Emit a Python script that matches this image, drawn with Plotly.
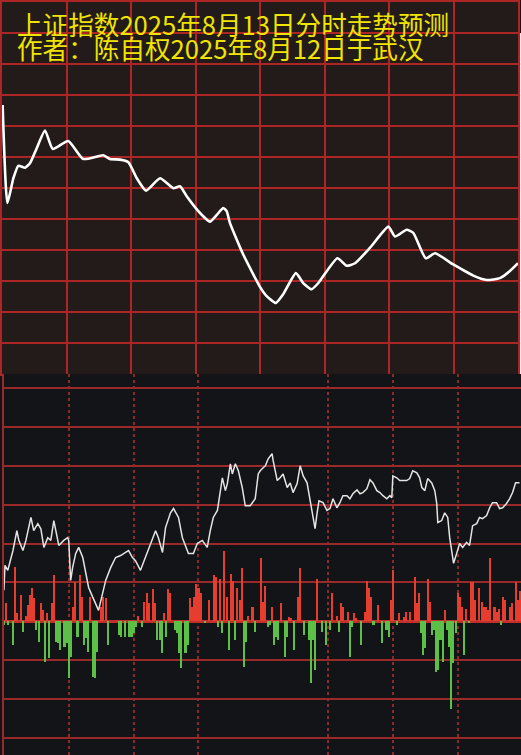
import plotly.graph_objects as go

# ---------------- data ----------------
title_line1 = "上证指数2025年8月13日分时走势预测"
title_line2 = "作者：陈自权2025年8月12日于武汉"

# Predicted curve (top panel): minute of session (0-240) and index level
top_minutes = [0.3, 2.5, 5.3, 7.6, 10.7, 13.0, 16.1, 20.0, 23.6, 30.8, 37.8, 47.1, 50.2, 54.9,
               58.7, 62.7, 67.0, 73.5, 79.7, 82.8, 85.9, 92.1, 96.7, 99.9, 102.9, 104.5, 106.0,
               112.2, 120.0, 123.1, 127.4, 130.8, 136.7, 140.1, 144.0, 147.1, 156.0, 160.3,
               164.2, 171.2, 179.7, 182.8, 188.2, 191.3, 197.1, 201.4, 209.9, 219.2, 225.4,
               231.6, 236.1, 240.0]
top_values = [3663.4, 3647.6, 3651.6, 3653.6, 3653.3, 3654.0, 3656.4, 3659.3, 3656.3, 3657.6,
              3654.7, 3655.3, 3654.7, 3654.6, 3654.2, 3651.6, 3649.6, 3651.6, 3650.0, 3650.3,
              3648.7, 3646.0, 3644.6, 3645.7, 3646.8, 3646.3, 3644.4, 3639.3, 3634.1, 3632.6,
              3631.5, 3632.9, 3636.3, 3634.7, 3633.7, 3634.7, 3638.7, 3637.5, 3637.9, 3640.4,
              3643.8, 3642.2, 3643.3, 3642.8, 3638.7, 3639.5, 3637.7, 3635.9, 3635.2, 3635.5,
              3636.6, 3637.9]

# Actual intraday price (bottom panel)
price_minutes = [0, 0.5, 1.8, 4.2, 6.0, 6.9, 8.8, 10.2, 12.5, 13.8, 15.7, 17.1, 18.5, 20.3, 21.7,
                 23.1, 25.4, 27.7, 29.5, 30.0, 30.9, 31.8, 33.2, 34.6, 36.5, 37.8, 39.2, 41.1,
                 43.4, 43.8, 47.1, 49.4, 51.7, 54.0, 56.3, 57.7, 59.5, 60.9, 63.2, 65.5, 67.8,
                 70.2, 71.5, 73.4, 74.8, 77.1, 78.5, 80.8, 82.6, 84.0, 85.4, 87.7, 89.5, 91.8,
                 94.1, 95.5, 96.9, 98.8, 100.1, 101.1, 102.5, 103.4, 104.8, 105.7, 107.1, 108.5,
                 110.3, 111.7, 114.0, 116.3, 117.7, 118.6,
                 120.0, 121.0, 122.3, 124.1, 124.6, 126.5, 127.8, 129.2, 131.1, 132.5, 133.8,
                 135.7, 137.1, 138.5, 140.3, 141.7, 143.1, 144.0, 144.9, 145.8, 147.7, 149.5,
                 150.9, 152.3, 154.1, 155.5, 156.9, 158.8, 160.1, 161.5, 163.4, 164.8, 166.1,
                 168.0, 169.4, 170.8, 172.6, 174.0, 175.4, 177.2, 178.6, 179.5, 180.0, 181.8,
                 183.2, 184.6, 186.4, 187.8, 189.2, 191.1, 192.4, 193.4, 194.8, 196.1, 198.0,
                 199.4, 200.3, 200.8, 202.6, 204.0, 205.4, 206.3, 207.2, 208.1, 209.5, 210.9,
                 212.3, 214.1, 215.5, 216.9, 218.8, 220.1, 221.5, 223.4, 224.8, 226.1, 228.0,
                 229.4, 230.8, 232.6, 234.0, 235.4, 236.8, 238.6]
price_values = [3638.0, 3644.4, 3643.1, 3648.2, 3653.3, 3650.8, 3648.2, 3650.8, 3656.7, 3653.3,
                3655.1, 3653.8, 3649.0, 3651.5, 3650.8, 3655.9, 3649.5, 3650.8, 3651.5, 3650.8,
                3640.5, 3643.8, 3647.4, 3649.0, 3646.4, 3642.3, 3638.7, 3636.2, 3633.6, 3632.8,
                3640.5, 3643.8, 3646.4, 3646.9, 3647.7, 3648.2, 3646.4, 3645.6, 3643.1, 3646.4,
                3650.0, 3653.3, 3651.5, 3647.7, 3654.1, 3657.9, 3659.0, 3656.7, 3651.5, 3649.5,
                3647.4, 3647.4, 3650.0, 3650.8, 3649.0, 3653.3, 3656.7, 3658.5, 3662.8, 3666.9,
                3663.6, 3665.4, 3670.5, 3667.9, 3670.5, 3668.7, 3664.4, 3659.7, 3659.7, 3661.5,
                3667.9, 3668.7,
                3669.5, 3670.0, 3671.8, 3673.1, 3671.3, 3666.2, 3666.9, 3667.9, 3664.4, 3665.6,
                3663.1, 3665.4, 3670.0, 3667.4, 3665.6, 3661.5, 3656.7, 3653.8, 3657.7, 3661.0,
                3660.5, 3658.5, 3659.0, 3661.5, 3659.2, 3660.5, 3662.3, 3662.3, 3661.5, 3662.8,
                3663.8, 3662.8, 3663.1, 3664.1, 3666.4, 3665.6, 3663.6, 3663.1, 3662.3, 3661.5,
                3662.3, 3661.8, 3667.4, 3666.9, 3666.2, 3666.2, 3666.2, 3666.7, 3668.7, 3668.2,
                3666.9, 3664.4, 3663.6, 3666.7, 3665.6, 3663.6, 3660.3, 3655.4, 3655.9, 3657.9,
                3656.7, 3651.5, 3648.2, 3644.9, 3647.4, 3650.0, 3649.0, 3650.3, 3649.5, 3654.6,
                3655.1, 3656.7, 3656.4, 3657.2, 3659.2, 3660.5, 3660.5, 3659.0, 3659.2, 3660.3,
                3661.5, 3663.1, 3665.6, 3665.6]

# Buying (red) / selling (green) strength bars
red_minutes = [1, 5, 6, 8, 10, 11, 12, 13, 14, 17, 18, 20, 22, 23, 32, 33, 35, 36, 40, 45, 46, 47,
               62, 65, 66, 67, 69, 70, 74, 76, 77, 86, 87, 88, 89, 90, 91, 95, 97, 98, 100, 102,
               103, 105, 106, 108, 109, 110, 113, 115, 119, 120, 121, 124, 128, 132, 133, 136,
               137, 145, 152, 154, 156, 157, 159, 162, 163, 167, 168, 169, 170, 173, 179, 180,
               183, 185, 186, 188, 190, 191, 192, 196, 197, 204, 210, 211, 212, 214, 216, 217,
               218, 220, 221, 222, 223, 224, 225, 227, 228, 229, 231, 232, 234, 235, 237, 238,
               239]
red_values = [46, 141, 21, 67, 15, 41, 67, 85, 59, 46, 28, 21, 46, 118, 36, 100, 118, 62, 62, 36,
              62, 59, 15, 49, 74, 46, 82, 46, 21, 82, 74, 59, 36, 62, 97, 87, 72, 54, 118, 113,
              110, 182, 62, 123, 105, 87, 54, 138, 15, 36, 162, 49, 92, 38, 46, 10, 8, 62, 136,
              110, 72, 15, 46, 36, 23, 21, 8, 23, 105, 87, 62, 41, 54, 131, 21, 10, 23, 23, 113,
              46, 74, 108, 49, 28, 74, 62, 36, 33, 100, 100, 54, 87, 49, 36, 36, 28, 162, 36, 23,
              33, 62, 54, 36, 46, 100, 54, 77]
green_minutes = [0, 2, 4, 9, 15, 16, 19, 21, 24, 25, 26, 28, 29, 30, 31, 34, 37, 38, 39, 41, 42,
                 43, 48, 53, 54, 56, 58, 59, 60, 61, 64, 71, 72, 73, 75, 79, 80, 81, 82, 84, 85,
                 93, 99, 101, 104, 107, 111, 112, 116, 122, 123, 125, 126, 127, 130, 131, 134,
                 139, 141, 142, 143, 144, 147, 149, 151, 155, 160, 161, 165, 171, 175, 177, 178,
                 182, 193, 194, 195, 198, 199, 200, 201, 202, 203, 205, 206, 207, 208, 209, 213,
                 215, 230]
green_values = [-10, -10, -62, -28, -23, -54, -105, -95, -54, -56, -74, -67, -56, -146, -92, -41,
                -62, -44, -79, -144, -146, -79, -62, -36, -41, -41, -41, -41, -31, -15, -15, -49,
                -49, -82, -41, -23, -31, -82, -121, -82, -62, -5, -15, -31, -74, -49, -118, -54,
                -28, -15, -10, -62, -41, -49, -92, -41, -74, -36, -49, -159, -49, -126, -28, -62,
                -21, -28, -92, -15, -62, -10, -56, -21, -41, -10, -31, -87, -69, -36, -23, -131,
                -126, -49, -105, -23, -67, -226, -108, -31, -87, -5, -10]

# ---------------- style ----------------
W, H = 521, 755
TOP_BG = "#221b19"
BOT_BG = "#131417"
TOP_GRID = "#ad2626"
BOT_GRID = "#9a2a2a"
DOT_GRID = "#8c2a2a"
RED = "#e63d2e"
GREEN = "#5cbf47"
YELLOW = "#f0e400"

top_y0 = 1 - 373.3 / H
bot_y1 = 382 / H

fig = go.Figure()

fig.add_trace(go.Bar(x=red_minutes, y=red_values, xaxis="x2", yaxis="y2",
                     marker=dict(color=RED, line=dict(width=0)), width=0.95,
                     showlegend=False, hoverinfo="skip"))
fig.add_trace(go.Bar(x=green_minutes, y=green_values, xaxis="x2", yaxis="y2",
                     marker=dict(color=GREEN, line=dict(width=0)), width=0.95,
                     showlegend=False, hoverinfo="skip"))
fig.add_trace(go.Scatter(x=price_minutes, y=price_values, xaxis="x2", yaxis="y3",
                         mode="lines", line=dict(color="#e4e4e4", width=1.5),
                         showlegend=False, hoverinfo="skip"))
fig.add_trace(go.Scatter(x=top_minutes, y=top_values, xaxis="x", yaxis="y",
                         mode="lines", line=dict(color="#ffffff", width=2.6, shape="spline",
                                                 smoothing=0.5),
                         showlegend=False, hoverinfo="skip"))

title_text = ("<span style='font-size:25.6px'>" + title_line1 + "</span><br>"
              "<span style='font-size:25.6px'>" + title_line2 + "</span>")

fig.update_layout(
    width=W, height=H,
    margin=dict(l=0, r=0, t=0, b=0),
    paper_bgcolor=BOT_BG, plot_bgcolor=BOT_BG,
    barmode="overlay", bargap=0,
    xaxis=dict(domain=[2 / W, 518 / W], range=[0, 240], tick0=0, dtick=30,
               showgrid=True, gridcolor=TOP_GRID, gridwidth=2, zeroline=False,
               showticklabels=False, ticks="", showline=True, linecolor=TOP_GRID,
               linewidth=2, mirror=True, fixedrange=True),
    yaxis=dict(domain=[top_y0, 1], range=[3620, 3680], tick0=3620, dtick=5,
               showgrid=True, gridcolor=TOP_GRID, gridwidth=2, zeroline=False,
               showticklabels=False, ticks="", showline=True, linecolor=TOP_GRID,
               linewidth=2, mirror=True, fixedrange=True),
    xaxis2=dict(domain=[3.9 / W, 1], range=[0, 239.3], anchor="y2",
                tickvals=[30, 60, 90, 150, 180, 210], showgrid=True, gridcolor=DOT_GRID,
                gridwidth=2, griddash="dot", zeroline=False, showticklabels=False,
                ticks="", showline=False, fixedrange=True),
    yaxis2=dict(domain=[0, bot_y1], range=[-343.6, 635.9], anchor="x2",
                tick0=0, dtick=100, showgrid=True, gridcolor=BOT_GRID, gridwidth=2,
                zeroline=True, zerolinecolor="#c0312d", zerolinewidth=3,
                showticklabels=False, ticks="", showline=True, linecolor=BOT_GRID,
                linewidth=2, fixedrange=True),
    yaxis3=dict(overlaying="y2", anchor="x2", range=[3595.6, 3693.6], visible=False,
                fixedrange=True),
    shapes=[
        dict(type="rect", xref="paper", yref="paper", x0=0, x1=518 / W, y0=top_y0, y1=1,
             fillcolor=TOP_BG, line=dict(width=0), layer="below"),
        dict(type="rect", xref="paper", yref="paper", x0=519 / W, x1=1, y0=top_y0,
             y1=1 - 31 / H, fillcolor="#f3ecec", line=dict(width=0), layer="below"),
        dict(type="line", xref="x2", yref="paper", x0=119.1, x1=119.1, y0=0, y1=bot_y1,
             line=dict(color="#8a2626", width=2), layer="below"),
    ],
    annotations=[
        dict(text=title_text, xref="paper", yref="paper", x=15 / W, y=1 - 34 / H,
             xanchor="left", yanchor="middle", align="left", showarrow=False,
             font=dict(family="Noto Sans CJK SC", size=18.6, color=YELLOW)),
    ],
)

fig.write_html("out.html", config={"displayModeBar": False},
               post_script="document.body.style.margin='0';document.body.style.padding='0';")
